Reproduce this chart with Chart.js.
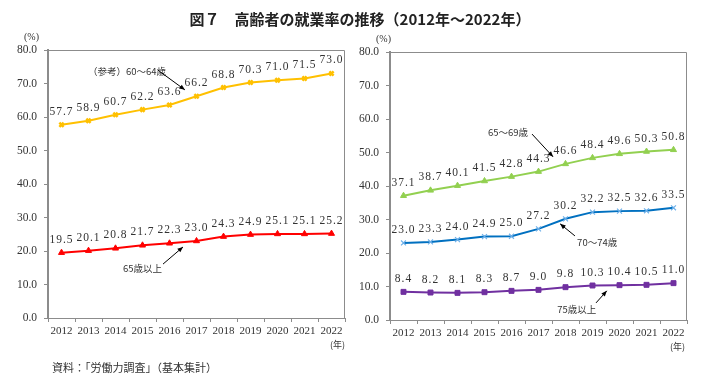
<!DOCTYPE html>
<html>
<head>
<meta charset="utf-8">
<script src="https://cdn.jsdelivr.net/npm/chart.js@4"></script>
<style>
body{margin:0;width:709px;height:374px;background:#fff;position:relative;overflow:hidden;font-family:"Liberation Serif",serif;color:#333}
canvas{position:absolute;top:0}
.t{position:absolute;white-space:nowrap}
</style>
</head>
<body>
<canvas id="left" width="355" height="374" style="left:0"></canvas>
<canvas id="right" width="354" height="374" style="left:355px"></canvas>
<div class="t" style="left:0;width:720px;top:8px;text-align:center;font:bold 15px 'Noto Sans CJK JP';color:#222">図７　高齢者の就業率の推移（2012年～2022年）</div>
<div class="t" style="left:24px;top:31px;font-size:10px">(%)</div>
<div class="t" style="left:376px;top:33px;font-size:10px">(%)</div>
<div class="t" style="left:330px;top:338px;font:9px 'Noto Sans CJK JP'">(年)</div>
<div class="t" style="left:670px;top:340px;font:9px 'Noto Sans CJK JP'">(年)</div>
<div class="t" style="left:52px;top:359px;font:11px 'Noto Sans CJK JP'">資料：「労働力調査」（基本集計）</div>
<script>
var years = ['2012','2013','2014','2015','2016','2017','2018','2019','2020','2021','2022'];
var age60to64 = [57.7, 58.9, 60.7, 62.2, 63.6, 66.2, 68.8, 70.3, 71.0, 71.5, 73.0];
var age65plus = [19.5, 20.1, 20.8, 21.7, 22.3, 23.0, 24.3, 24.9, 25.1, 25.1, 25.2];
var age65to69 = [37.1, 38.7, 40.1, 41.5, 42.8, 44.3, 46.6, 48.4, 49.6, 50.3, 50.8];
var age70to74 = [23.0, 23.3, 24.0, 24.9, 25.0, 27.2, 30.2, 32.2, 32.5, 32.6, 33.5];
var age75plus = [8.4, 8.2, 8.1, 8.3, 8.7, 9.0, 9.8, 10.3, 10.4, 10.5, 11.0];

// annotation: text + arrow, in data coords (category index, value)
var leftNotes = [
    {text:'（参考）60～64歳', tx:0.98, ty:73.7, from:[3.57,74.0], to:[4.57,68.1]},
    {text:'65歳以上', tx:2.28, ty:14.9, from:[3.76,16.1], to:[4.5,21.2]}
];
var rightNotes = [
    {text:'65～69歳', tx:3.13, ty:56.1, from:[4.76,55.5], to:[5.54,48.7]},
    {text:'70～74歳', tx:6.43, ty:23.3, from:[6.35,25.1], to:[5.8,28.7]},
    {text:'75歳以上', tx:5.69, ty:3.3, from:[7.13,5.1], to:[7.53,8.7]}
];

var labelPlugin = {
    id: 'extras',
    beforeDatasetsDraw: function(chart){
        var a = chart.chartArea, ctx = chart.ctx;
        ctx.save();
        ctx.strokeStyle = '#8c8c8c';
        ctx.lineWidth = 1;
        ctx.beginPath();
        ctx.moveTo(a.left, a.top + 0.5);
        ctx.lineTo(a.right - 0.5, a.top + 0.5);
        ctx.lineTo(a.right - 0.5, a.bottom);
        ctx.stroke();
        ctx.restore();
    },
    afterDatasetsDraw: function(chart){
        var ctx = chart.ctx;
        var xs = chart.scales.x, ys = chart.scales.y;
        ctx.save();
        ctx.fillStyle = '#333';
        ctx.font = '11.5px "Liberation Serif"';
        ctx.letterSpacing = '1px';
        ctx.textAlign = 'center';
        ctx.textBaseline = 'middle';
        chart.data.datasets.forEach(function(ds, di){
            chart.getDatasetMeta(di).data.forEach(function(pt, i){
                ctx.fillText(ds.data[i].toFixed(1), pt.x, pt.y - 13);
            });
        });
        ctx.letterSpacing = '0px';
        ctx.font = '9.5px "Noto Sans CJK JP"';
        ctx.textAlign = 'left';
        ctx.strokeStyle = '#000';
        ctx.lineWidth = 1;
        chart.options.notes.forEach(function(n){
            ctx.fillStyle = '#333';
            ctx.fillText(n.text, xs.getPixelForValue(n.tx), ys.getPixelForValue(n.ty));
            var x1 = xs.getPixelForValue(n.from[0]), y1 = ys.getPixelForValue(n.from[1]);
            var x2 = xs.getPixelForValue(n.to[0]), y2 = ys.getPixelForValue(n.to[1]);
            ctx.beginPath(); ctx.moveTo(x1, y1); ctx.lineTo(x2, y2); ctx.stroke();
            var ang = Math.atan2(y2 - y1, x2 - x1);
            ctx.fillStyle = '#000';
            ctx.beginPath();
            ctx.moveTo(x2, y2);
            ctx.lineTo(x2 - 6 * Math.cos(ang - 0.4), y2 - 6 * Math.sin(ang - 0.4));
            ctx.lineTo(x2 - 6 * Math.cos(ang + 0.4), y2 - 6 * Math.sin(ang + 0.4));
            ctx.closePath(); ctx.fill();
        });
        ctx.restore();
    }
};

function makeChart(id, datasets, notes, yWidth, pad){
    return new Chart(document.getElementById(id), {
        type: 'line',
        data: {labels: years, datasets: datasets},
        options: {
            responsive: false,
            animation: false,
            notes: notes,
            layout: {padding: pad},
            plugins: {legend: {display: false}, tooltip: {enabled: false}},
            scales: {
                x: {
                    offset: true,
                    grid: {offset: true, drawOnChartArea: false, drawTicks: true, tickLength: 4, color: '#8c8c8c'},
                    border: {color: '#8c8c8c', width: 1},
                    ticks: {color: '#333', font: {family: 'Liberation Serif', size: 11}, padding: 3, maxRotation: 0, autoSkip: false},
                    afterFit: function(s){ s.height = 30; }
                },
                y: {
                    min: 0, max: 80,
                    grid: {drawOnChartArea: false, drawTicks: true, tickLength: 4, color: '#8c8c8c'},
                    border: {color: '#8c8c8c', width: 2},
                    ticks: {stepSize: 10, color: '#333', padding: 7, font: {family: 'Liberation Serif', size: 11.5},
                        callback: function(v){ return v.toFixed(1); }},
                    afterFit: function(s){ s.width = yWidth; }
                }
            }
        },
        plugins: [labelPlugin]
    });
}

makeChart('left', [
    {data: age60to64, borderColor: '#FFC000', backgroundColor: '#FFC000', borderWidth: 2,
        pointStyle: 'crossRot', pointRadius: 3, pointBorderWidth: 2.5},
    {data: age65plus, borderColor: '#FF0000', backgroundColor: '#FF0000', borderWidth: 2,
        pointStyle: 'triangle', pointRadius: 3.5, pointBorderWidth: 1}
], leftNotes, 48, {top: 50, right: 10, bottom: 26, left: 0});

makeChart('right', [
    {data: age65to69, borderColor: '#92D050', backgroundColor: '#92D050', borderWidth: 2,
        pointStyle: 'triangle', pointRadius: 3.5, pointBorderWidth: 1},
    {data: age70to74, borderColor: '#0070C0', backgroundColor: '#6FB1EA', borderWidth: 2,
        pointStyle: 'crossRot', pointRadius: 3.5, pointBorderColor: '#6FB1EA', pointBorderWidth: 1.2},
    {data: age75plus, borderColor: '#7030A0', backgroundColor: '#7030A0', borderWidth: 2,
        pointStyle: 'rect', pointRadius: 3.5, pointBorderWidth: 1}
], rightNotes, 35, {top: 52, right: 22, bottom: 24, left: 0});
</script>
</body>
</html>
